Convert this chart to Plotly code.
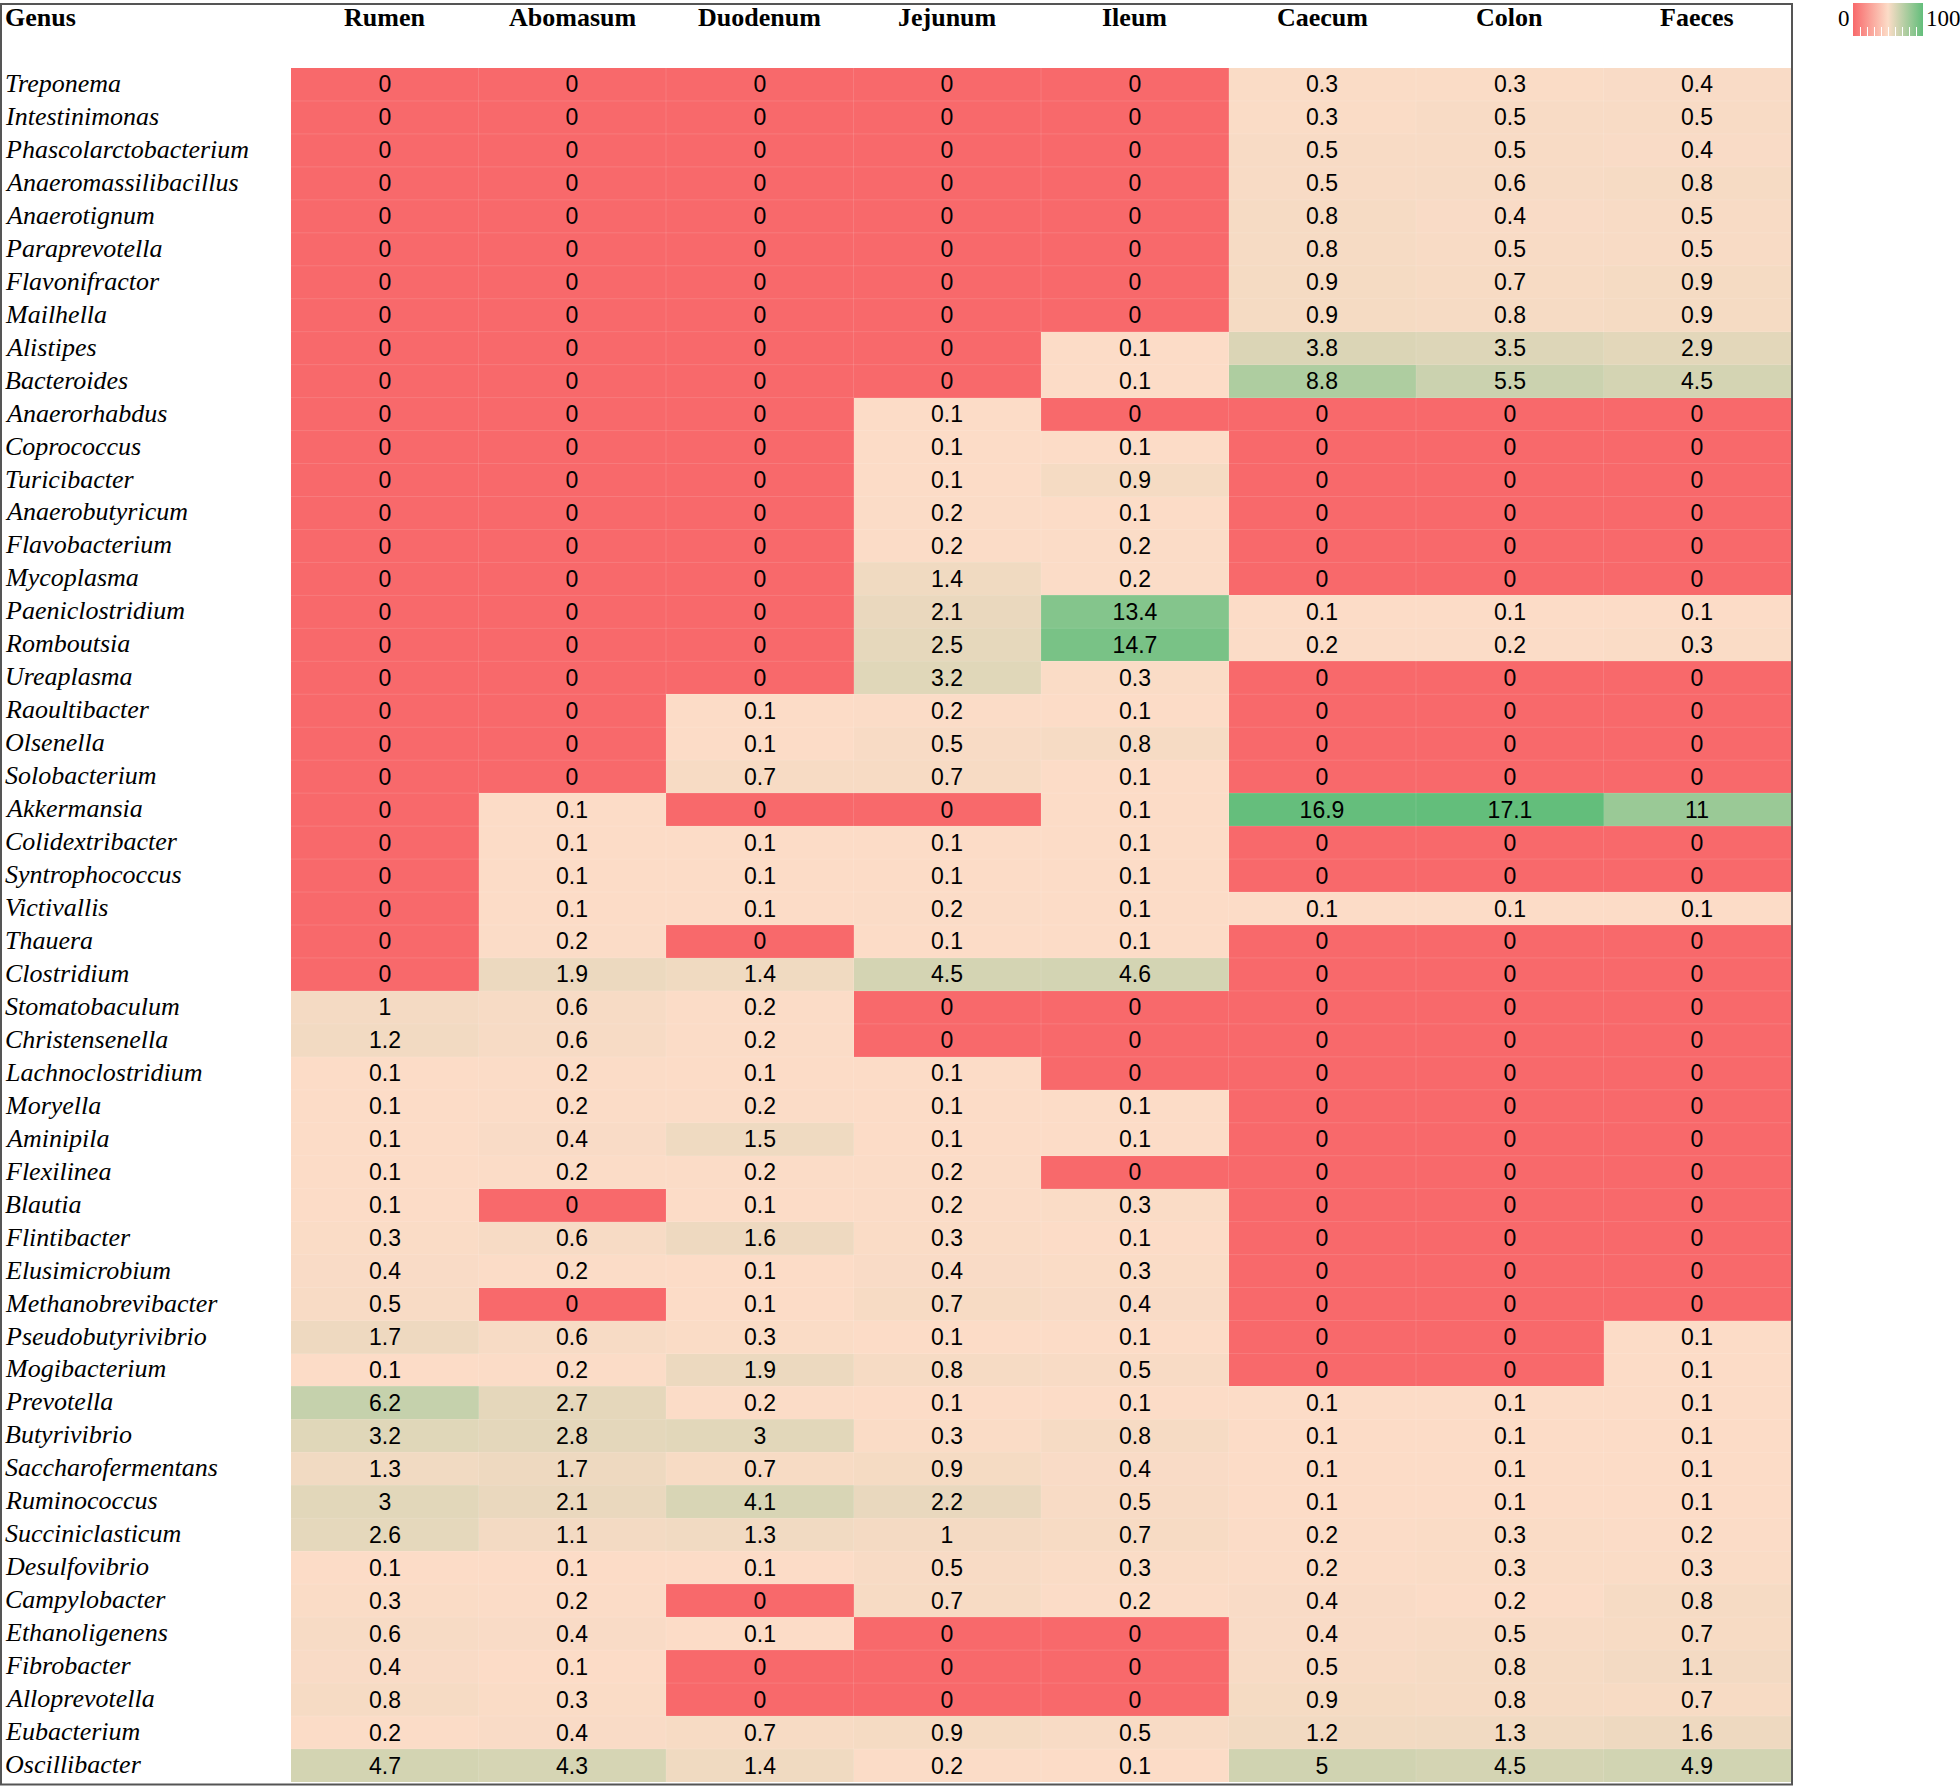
import plotly.graph_objects as go

columns = ["Rumen", "Abomasum", "Duodenum", "Jejunum", "Ileum", "Caecum", "Colon", "Faeces"]

genera = [
    "Treponema", "Intestinimonas", "Phascolarctobacterium", "Anaeromassilibacillus",
    "Anaerotignum", "Paraprevotella", "Flavonifractor", "Mailhella", "Alistipes",
    "Bacteroides", "Anaerorhabdus", "Coprococcus", "Turicibacter", "Anaerobutyricum",
    "Flavobacterium", "Mycoplasma", "Paeniclostridium", "Romboutsia", "Ureaplasma",
    "Raoultibacter", "Olsenella", "Solobacterium", "Akkermansia", "Colidextribacter",
    "Syntrophococcus", "Victivallis", "Thauera", "Clostridium", "Stomatobaculum",
    "Christensenella", "Lachnoclostridium", "Moryella", "Aminipila", "Flexilinea",
    "Blautia", "Flintibacter", "Elusimicrobium", "Methanobrevibacter",
    "Pseudobutyrivibrio", "Mogibacterium", "Prevotella", "Butyrivibrio",
    "Saccharofermentans", "Ruminococcus", "Succiniclasticum", "Desulfovibrio",
    "Campylobacter", "Ethanoligenens", "Fibrobacter", "Alloprevotella", "Eubacterium",
    "Oscillibacter",
]

rumen = [0, 0, 0, 0, 0, 0, 0, 0, 0, 0, 0, 0, 0, 0, 0, 0, 0, 0, 0, 0, 0, 0, 0, 0, 0, 0, 0, 0,
         1, 1.2, 0.1, 0.1, 0.1, 0.1, 0.1, 0.3, 0.4, 0.5, 1.7, 0.1, 6.2, 3.2, 1.3, 3, 2.6, 0.1,
         0.3, 0.6, 0.4, 0.8, 0.2, 4.7]
abomasum = [0, 0, 0, 0, 0, 0, 0, 0, 0, 0, 0, 0, 0, 0, 0, 0, 0, 0, 0, 0, 0, 0, 0.1, 0.1, 0.1,
            0.1, 0.2, 1.9, 0.6, 0.6, 0.2, 0.2, 0.4, 0.2, 0, 0.6, 0.2, 0, 0.6, 0.2, 2.7, 2.8,
            1.7, 2.1, 1.1, 0.1, 0.2, 0.4, 0.1, 0.3, 0.4, 4.3]
duodenum = [0, 0, 0, 0, 0, 0, 0, 0, 0, 0, 0, 0, 0, 0, 0, 0, 0, 0, 0, 0.1, 0.1, 0.7, 0, 0.1,
            0.1, 0.1, 0, 1.4, 0.2, 0.2, 0.1, 0.2, 1.5, 0.2, 0.1, 1.6, 0.1, 0.1, 0.3, 1.9, 0.2,
            3, 0.7, 4.1, 1.3, 0.1, 0, 0.1, 0, 0, 0.7, 1.4]
jejunum = [0, 0, 0, 0, 0, 0, 0, 0, 0, 0, 0.1, 0.1, 0.1, 0.2, 0.2, 1.4, 2.1, 2.5, 3.2, 0.2, 0.5,
           0.7, 0, 0.1, 0.1, 0.2, 0.1, 4.5, 0, 0, 0.1, 0.1, 0.1, 0.2, 0.2, 0.3, 0.4, 0.7, 0.1,
           0.8, 0.1, 0.3, 0.9, 2.2, 1, 0.5, 0.7, 0, 0, 0, 0.9, 0.2]
ileum = [0, 0, 0, 0, 0, 0, 0, 0, 0.1, 0.1, 0, 0.1, 0.9, 0.1, 0.2, 0.2, 13.4, 14.7, 0.3, 0.1,
         0.8, 0.1, 0.1, 0.1, 0.1, 0.1, 0.1, 4.6, 0, 0, 0, 0.1, 0.1, 0, 0.3, 0.1, 0.3, 0.4, 0.1,
         0.5, 0.1, 0.8, 0.4, 0.5, 0.7, 0.3, 0.2, 0, 0, 0, 0.5, 0.1]
caecum = [0.3, 0.3, 0.5, 0.5, 0.8, 0.8, 0.9, 0.9, 3.8, 8.8, 0, 0, 0, 0, 0, 0, 0.1, 0.2, 0, 0,
          0, 0, 16.9, 0, 0, 0.1, 0, 0, 0, 0, 0, 0, 0, 0, 0, 0, 0, 0, 0, 0, 0.1, 0.1, 0.1, 0.1,
          0.2, 0.2, 0.4, 0.4, 0.5, 0.9, 1.2, 5]
colon = [0.3, 0.5, 0.5, 0.6, 0.4, 0.5, 0.7, 0.8, 3.5, 5.5, 0, 0, 0, 0, 0, 0, 0.1, 0.2, 0, 0,
         0, 0, 17.1, 0, 0, 0.1, 0, 0, 0, 0, 0, 0, 0, 0, 0, 0, 0, 0, 0, 0, 0.1, 0.1, 0.1, 0.1,
         0.3, 0.3, 0.2, 0.5, 0.8, 0.8, 1.3, 4.5]
faeces = [0.4, 0.5, 0.4, 0.8, 0.5, 0.5, 0.9, 0.9, 2.9, 4.5, 0, 0, 0, 0, 0, 0, 0.1, 0.3, 0, 0,
          0, 0, 11, 0, 0, 0.1, 0, 0, 0, 0, 0, 0, 0, 0, 0, 0, 0, 0, 0.1, 0.1, 0.1, 0.1, 0.1,
          0.1, 0.2, 0.3, 0.8, 0.7, 1.1, 0.7, 1.6, 4.9]

series = [rumen, abomasum, duodenum, jejunum, ileum, caecum, colon, faeces]
z = [[s[i] for s in series] for i in range(len(genera))]

legend_ticks = ["0", "100"]

RED = "#F8696B"
PEACH = "rgb(252,220,199)"
GREEN = "#63BE7B"

W, H = 1960, 1786
ML, MR, MT, MB = 291, 169, 65, 3
PW = W - ML - MR
PH = H - MT - MB

fig = go.Figure()

fig.add_trace(go.Heatmap(
    z=z, x=columns, y=genera,
    zmin=0, zmax=max(max(s) for s in series),
    colorscale=[[0, RED], [0.004, RED], [0.0055, PEACH], [1, GREEN]],
    showscale=False,
    texttemplate="%{z}",
    textfont=dict(family="Liberation Sans", size=23, color="black"),
    hoverinfo="skip",
))

# colour legend (0-100 gradient)
fig.add_trace(go.Scatter(
    x=[None], y=[None], mode="markers", showlegend=False, hoverinfo="skip",
    marker=dict(
        color=[0], cmin=0, cmax=100,
        colorscale=[[0, RED], [0.5, PEACH], [1, GREEN]],
        showscale=True,
        colorbar=dict(
            orientation="h",
            x=(1888 - ML) / PW, xanchor="center",
            y=1 + MT / PH, yanchor="top",
            lenmode="pixels", len=70,
            thicknessmode="pixels", thickness=33,
            xpad=0, ypad=0, outlinewidth=0,
            tickmode="linear", tick0=0, dtick=10,
            ticks="inside", ticklen=9, tickwidth=1, tickcolor="white",
            showticklabels=False,
        ),
    ),
))

HDR_Y = 1 + (MT - 14.5) / PH

annotations = []
# header
annotations.append(dict(text="<b>Genus</b>", xref="paper", yref="paper",
                        x=(3 - ML) / PW, y=HDR_Y, xanchor="left", yanchor="middle",
                        showarrow=False, font=dict(family="Liberation Serif", size=26, color="black")))
for c in columns:
    annotations.append(dict(text=f"<b>{c}</b>", xref="x", yref="paper", x=c,
                            y=HDR_Y, xanchor="center", yanchor="middle",
                            showarrow=False,
                            font=dict(family="Liberation Serif", size=26, color="black")))
# genus labels
for g in genera:
    annotations.append(dict(text=f"<i>{g}</i>", xref="paper", yref="y", x=(3 - ML) / PW, y=g,
                            xanchor="left", yanchor="middle", showarrow=False, yshift=1,
                            font=dict(family="Liberation Serif", size=26, color="black")))
# legend labels
annotations.append(dict(text=legend_ticks[0], xref="paper", yref="paper",
                        x=(1852 - ML) / PW, y=1 + (MT - 15) / PH, xanchor="right", yanchor="middle",
                        showarrow=False, font=dict(family="Liberation Serif", size=23, color="black")))
annotations.append(dict(text=legend_ticks[1], xref="paper", yref="paper",
                        x=(1924 - ML) / PW, y=1 + (MT - 15) / PH, xanchor="left", yanchor="middle",
                        showarrow=False, font=dict(family="Liberation Serif", size=23, color="black")))

shapes = []
# faint cell separators
for i in range(1, len(genera)):
    shapes.append(dict(type="line", xref="paper", yref="y", x0=0, x1=1, y0=i - 0.5, y1=i - 0.5,
                       line=dict(color="rgba(255,255,255,0.12)", width=1)))
for j in range(1, len(columns)):
    shapes.append(dict(type="line", xref="x", yref="paper", x0=j - 0.5, x1=j - 0.5, y0=0, y1=1,
                       line=dict(color="rgba(255,255,255,0.12)", width=1)))
# outer frame
shapes.append(dict(type="rect", xref="paper", yref="paper",
                   x0=(1 - ML) / PW, x1=1 + 1 / PW, y0=-1.5 / PH, y1=1 + (MT - 1) / PH,
                   line=dict(color="#555555", width=2)))

fig.update_layout(
    width=W, height=H,
    margin=dict(l=ML, r=MR, t=MT, b=MB, pad=0),
    paper_bgcolor="white", plot_bgcolor="white",
    xaxis=dict(showticklabels=False, showgrid=False, zeroline=False, ticks="",
               range=[-0.5, len(columns) - 0.5]),
    yaxis=dict(showticklabels=False, showgrid=False, zeroline=False, ticks="",
               autorange="reversed"),
    annotations=annotations,
    shapes=shapes,
)

fig.write_html("out.html", config={"displayModeBar": False},
               post_script="document.body.style.margin='0';document.body.style.overflow='hidden';")
